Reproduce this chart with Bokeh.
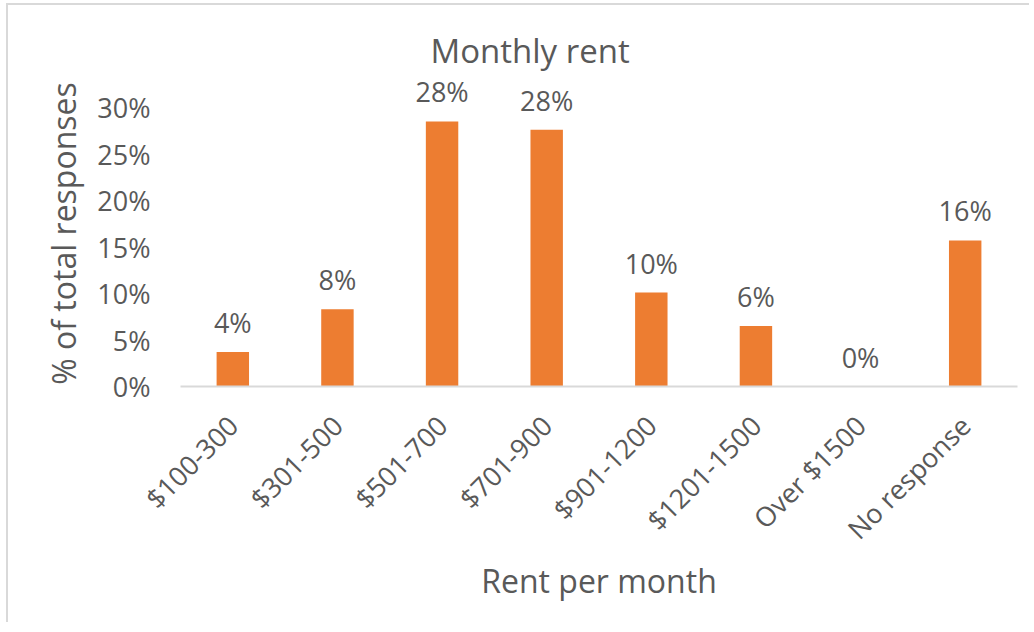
import math
from bokeh.plotting import figure
from bokeh.models import ColumnDataSource, NumeralTickFormatter, FixedTicker, LabelSet
from bokeh.core.properties import value
from bokeh.embed import file_html
from bokeh.resources import INLINE

categories = ["$100-300", "$301-500", "$501-700", "$701-900", "$901-1200",
              "$1201-1500", "Over $1500", "No response"]
shares = [0.037, 0.083, 0.285, 0.276, 0.101, 0.065, 0.0, 0.157]
labels = [f"{round(v * 100)}%" for v in shares]
y_ticks = [0, 0.05, 0.10, 0.15, 0.20, 0.25, 0.30]

FONT = "Open Sans"
TXT = "#595959"

src = ColumnDataSource(dict(cat=categories, val=shares, lab=labels))

p = figure(x_range=categories, y_range=(0, 306 / 930),
           frame_width=837, frame_height=306,
           output_backend="svg", toolbar_location=None,
           min_border_left=172, min_border_right=12, min_border_top=75,
           min_border_bottom=236, title="Monthly rent")

p.vbar(x="cat", top="val", width=0.31, source=src, color="#ED7D31", line_color=None)
lbls = LabelSet(x="cat", y="val", text="lab", source=src, text_align="center",
                text_baseline="bottom", y_offset=11, text_font=value(FONT),
                text_font_size="27px", text_color=TXT)
p.add_layout(lbls)

p.title.text_font = FONT
p.title.text_font_size = "33px"
p.title.text_font_style = "normal"
p.title.text_color = TXT
p.title.align = "left"
p.title.offset = 250
p.title.standoff = 16

p.outline_line_color = None
p.xgrid.grid_line_color = None
p.ygrid.grid_line_color = None

p.yaxis.ticker = FixedTicker(ticks=y_ticks)
p.yaxis.formatter = NumeralTickFormatter(format="0%")
p.yaxis.axis_line_color = None
p.yaxis.major_tick_line_color = None
p.yaxis.minor_tick_line_color = None
p.yaxis.major_label_standoff = 24
p.yaxis.axis_label = "% of total responses"
p.yaxis.axis_label_standoff = 9

p.xaxis.axis_line_color = "#D9D9D9"
p.xaxis.axis_line_width = 2
p.xaxis.major_tick_line_color = None
p.xaxis.minor_tick_line_color = None
p.xaxis.major_label_orientation = math.pi / 4
p.xaxis.major_label_standoff = 28
p.xaxis.axis_label = "Rent per month"
p.xaxis.axis_label_standoff = -4

for ax in (p.xaxis, p.yaxis):
    ax.major_label_text_font = FONT
    ax.major_label_text_font_size = "27px"
    ax.major_label_text_color = TXT
    ax.axis_label_text_font = FONT
    ax.axis_label_text_font_size = "32px"
    ax.axis_label_text_font_style = "normal"
    ax.axis_label_text_color = TXT

p.styles = {"border-left": "2px solid #D9D9D9", "border-top": "2px solid #D9D9D9",
            "margin-left": "6px", "margin-top": "3px"}

open("out.html", "w").write(file_html(p, INLINE))
